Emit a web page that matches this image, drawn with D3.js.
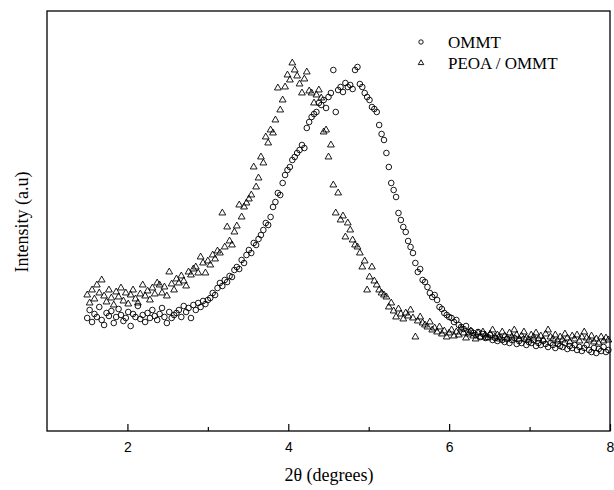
<!DOCTYPE html>
<html>
<head>
<meta charset="utf-8">
<script src="https://cdn.jsdelivr.net/npm/d3@7"></script>
<style>
  body { margin: 0; background: #fff; }
  svg { display: block; }
</style>
</head>
<body>
<div class="canva"></div>
<script>
// 2theta scan positions (degrees)
const twoTheta = [
  1.50,1.53,1.56,1.59,1.62,1.65,1.68,1.71,1.74,1.77,
  1.80,1.83,1.86,1.89,1.92,1.95,1.98,2.01,2.04,2.07,
  2.10,2.13,2.16,2.19,2.22,2.25,2.28,2.31,2.34,2.37,
  2.40,2.43,2.46,2.49,2.52,2.55,2.58,2.61,2.64,2.67,
  2.70,2.73,2.76,2.79,2.82,2.85,2.88,2.91,2.94,2.97,
  3.00,3.03,3.06,3.09,3.12,3.15,3.18,3.21,3.24,3.27,
  3.30,3.33,3.36,3.39,3.42,3.45,3.48,3.51,3.54,3.57,
  3.60,3.63,3.66,3.69,3.72,3.75,3.78,3.81,3.84,3.87,
  3.90,3.93,3.96,3.99,4.02,4.05,4.08,4.11,4.14,4.17,
  4.20,4.23,4.26,4.29,4.32,4.35,4.38,4.41,4.44,4.47,
  4.50,4.53,4.56,4.59,4.62,4.65,4.68,4.71,4.74,4.77,
  4.80,4.83,4.86,4.89,4.92,4.95,4.98,5.01,5.04,5.07,
  5.10,5.13,5.16,5.19,5.22,5.25,5.28,5.31,5.34,5.37,
  5.40,5.43,5.46,5.49,5.52,5.55,5.58,5.61,5.64,5.67,
  5.70,5.73,5.76,5.79,5.82,5.85,5.88,5.91,5.94,5.97,
  6.00,6.03,6.06,6.09,6.12,6.15,6.18,6.21,6.24,6.27,
  6.30,6.33,6.36,6.39,6.42,6.45,6.48,6.51,6.54,6.57,
  6.60,6.63,6.66,6.69,6.72,6.75,6.78,6.81,6.84,6.87,
  6.90,6.93,6.96,6.99,7.02,7.05,7.08,7.11,7.14,7.17,
  7.20,7.23,7.26,7.29,7.32,7.35,7.38,7.41,7.44,7.47,
  7.50,7.53,7.56,7.59,7.62,7.65,7.68,7.71,7.74,7.77,
  7.80,7.83,7.86,7.89,7.92,7.95,7.98
];

// intensity (a.u) of OMMT
const ommt = [
  113,121,109,117,114,124,111,106,118,115,
  120,108,114,122,116,110,113,119,105,117,
  114,125,112,116,109,118,113,121,115,111,
  117,123,114,108,119,113,116,118,121,114,
  125,119,123,113,126,121,128,124,130,127,
  131,133,138,136,143,148,145,151,149,155,
  154,161,164,162,171,168,176,181,178,188,
  186,192,196,201,208,206,214,224,229,238,
  236,248,256,261,264,271,274,278,281,286,
  283,303,309,314,317,319,328,326,331,323,
  334,338,361,319,341,344,339,348,344,346,
  342,361,364,347,344,338,334,331,324,322,
  319,306,297,291,278,264,248,241,234,218,
  211,204,199,190,184,178,168,159,162,151,
  149,144,138,134,136,131,124,122,118,116,
  114,113,109,111,106,104,102,105,99,100,
  98,96,99,94,97,93,94,96,91,93,
  90,94,91,89,92,88,91,93,87,90,
  88,92,86,89,88,91,85,88,86,90,
  87,84,88,86,83,87,85,84,88,82,
  85,83,86,81,84,80,83,86,81,79,
  83,78,82,80,84,79,81
];

// intensity (a.u) of PEOA / OMMT
const peoa = [
  136,128,141,132,146,138,151,135,129,141,
  133,126,139,134,143,130,138,127,136,141,
  132,128,137,146,135,140,131,143,137,148,
  146,138,144,135,159,147,141,152,148,155,
  150,145,159,156,162,164,158,174,168,158,
  170,166,176,172,180,178,218,184,204,190,
  186,199,205,226,214,224,228,232,236,264,
  244,253,274,268,294,288,301,298,311,343,
  321,331,344,356,351,368,361,355,347,338,
  352,359,340,338,328,336,341,333,299,301,
  274,286,246,218,238,211,215,194,208,201,
  191,186,184,178,164,170,141,154,164,150,
  146,141,138,136,134,124,128,120,114,122,
  117,112,118,115,121,113,94,110,114,108,
  106,104,109,101,103,99,104,97,100,94,
  98,101,95,99,96,102,98,93,97,100,
  95,92,98,94,99,96,93,97,101,94,
  96,92,99,95,93,98,94,101,96,92,
  95,99,93,91,96,94,98,92,95,91,
  97,101,94,92,96,90,94,91,97,93,
  89,95,92,96,90,94,99,93,91,95,
  89,92,88,94,90,93,91
];

const majorTicks = [2, 4, 6, 8];
const minorTicks = [3, 5, 7];
const seriesNames = ["OMMT", "PEOA / OMMT"];

const W = 614, H = 490;
const mLeft = 47, mRight = 610, mTop = 11, mBottom = 431;

const svg = d3.select(".canva").append("svg")
    .attr("width", W)
    .attr("height", H);

const x = d3.scaleLinear().domain([1, 8]).range([mLeft, mRight]);
const y = d3.scaleLinear().domain([0, 420]).range([mBottom, mTop]);

// frame
svg.append("rect")
    .attr("x", mLeft).attr("y", mTop)
    .attr("width", mRight - mLeft).attr("height", mBottom - mTop)
    .attr("fill", "none")
    .attr("stroke", "#000")
    .attr("stroke-width", 1.3);

// bottom axis, ticks pointing inward
const xAxis = svg.append("g")
    .attr("transform", "translate(0," + mBottom + ")")
    .call(d3.axisBottom(x).tickValues(majorTicks).tickSizeInner(-7).tickSizeOuter(0).tickPadding(11).tickFormat(d3.format("d")));
xAxis.select(".domain").remove();
xAxis.selectAll("line").attr("stroke-width", 1.2);
xAxis.selectAll("text")
    .style("font-family", "Arial, 'Liberation Sans', sans-serif")
    .style("font-size", "14px")
    .attr("fill", "#000");

svg.append("g")
    .attr("transform", "translate(0," + mBottom + ")")
    .call(d3.axisBottom(x).tickValues(minorTicks).tickSizeInner(-4).tickSizeOuter(0).tickFormat(""))
    .call(g => g.select(".domain").remove())
    .selectAll("line").attr("stroke-width", 1.2);

// axis titles
svg.append("text")
    .attr("x", 329).attr("y", 481)
    .attr("text-anchor", "middle")
    .style("font-family", "'Times New Roman', 'Liberation Serif', serif")
    .style("font-size", "18px")
    .text("2θ (degrees)");

svg.append("text")
    .attr("transform", "translate(22,222) rotate(-90)")
    .attr("dy", "0.35em")
    .attr("text-anchor", "middle")
    .style("font-family", "'Times New Roman', 'Liberation Serif', serif")
    .style("font-size", "18px")
    .text("Intensity (a.u)");

const ommtData = twoTheta.map((t, i) => ({ t: t, v: ommt[i] }));
const peoaData = twoTheta.map((t, i) => ({ t: t, v: peoa[i] }));

const tri = d3.symbol().type(d3.symbolTriangle).size(20);

// PEOA / OMMT triangles
svg.append("g").selectAll("path")
    .data(peoaData)
    .enter().append("path")
    .attr("d", tri)
    .attr("transform", d => "translate(" + x(d.t) + "," + y(d.v) + ")")
    .attr("fill", "none")
    .attr("stroke", "#000")
    .attr("stroke-width", 0.9);

// OMMT circles
svg.append("g").selectAll("circle")
    .data(ommtData)
    .enter().append("circle")
    .attr("cx", d => x(d.t))
    .attr("cy", d => y(d.v))
    .attr("r", 2.8)
    .attr("fill", "none")
    .attr("stroke", "#000")
    .attr("stroke-width", 0.9);

// legend
const legend = svg.append("g").attr("transform", "translate(421,42)");
legend.append("circle")
    .attr("cx", 0).attr("cy", 0).attr("r", 2.2)
    .attr("fill", "none").attr("stroke", "#000").attr("stroke-width", 0.9);
legend.append("path")
    .attr("d", d3.symbol().type(d3.symbolTriangle).size(13))
    .attr("transform", "translate(0,21)")
    .attr("fill", "none").attr("stroke", "#000").attr("stroke-width", 0.9);
legend.selectAll("text")
    .data(seriesNames)
    .enter().append("text")
    .attr("x", 27)
    .attr("y", (d, i) => i * 21)
    .attr("dy", "0.35em")
    .style("font-family", "'Times New Roman', 'Liberation Serif', serif")
    .style("font-size", "17px")
    .text(d => d);
</script>
</body>
</html>
